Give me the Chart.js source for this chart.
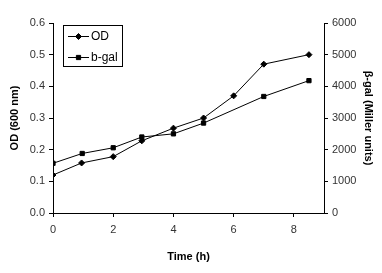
<!DOCTYPE html>
<html>
<head>
<meta charset="utf-8">
<script src="https://cdn.jsdelivr.net/npm/chart.js@4"></script>
<style>
  html, body { margin: 0; padding: 0; background: #fff; }
  #wrap { width: 382px; height: 273px; }
</style>
</head>
<body>
<div id="wrap"><canvas id="c" width="382" height="273"></canvas></div>
<script>
// values
const timeOD = [0, 0.95, 2, 2.95, 4, 5, 6, 7, 8.5];
const odValues = [0.12, 0.158, 0.178, 0.228, 0.268, 0.30, 0.37, 0.47, 0.50];
const timeGal = [0, 0.97, 2, 2.95, 4, 5, 7, 8.5];
const galValues = [1570, 1880, 2060, 2400, 2500, 2840, 3680, 4180];
const xTicks = [0, 2, 4, 6, 8];

const font = { family: 'Liberation Sans, Arial, sans-serif', size: 11 };
const boldFont = { family: 'Liberation Sans, Arial, sans-serif', size: 11, weight: 'bold' };

// small boxed legend like the original
const boxLegend = {
  id: 'boxLegend',
  afterDraw(chart) {
    const ctx = chart.ctx;
    ctx.save();
    ctx.strokeStyle = '#000';
    ctx.lineWidth = 1;
    ctx.strokeRect(63.5, 25.5, 59, 41);
    const rows = [
      { label: 'OD', style: 'rectRot', r: 3, y: 36 },
      { label: 'b-gal', style: 'rect', r: 3, y: 57 }
    ];
    rows.forEach(row => {
      ctx.beginPath();
      ctx.moveTo(68, row.y + 0.5);
      ctx.lineTo(89, row.y + 0.5);
      ctx.stroke();
      ctx.fillStyle = '#000';
      Chart.helpers.drawPoint(ctx, { pointStyle: row.style, radius: row.r, borderWidth: 1 }, 78.5, row.y + 0.5);
      ctx.font = '12px Liberation Sans, Arial, sans-serif';
      ctx.textBaseline = 'middle';
      ctx.fillText(row.label, 91, row.y + 1);
    });
    ctx.restore();
  }
};

new Chart(document.getElementById('c'), {
  type: 'line',
  data: {
    datasets: [{
      label: 'OD',
      data: timeOD.map((t, i) => ({ x: t, y: odValues[i] })),
      yAxisID: 'y',
      borderColor: '#000',
      backgroundColor: '#000',
      borderWidth: 1,
      pointStyle: 'rectRot',
      pointRadius: 3,
      tension: 0
    }, {
      label: 'b-gal',
      data: timeGal.map((t, i) => ({ x: t, y: galValues[i] })),
      yAxisID: 'y2',
      borderColor: '#000',
      backgroundColor: '#000',
      borderWidth: 1,
      pointStyle: 'rect',
      pointRadius: 3,
      tension: 0
    }]
  },
  options: {
    responsive: false,
    animation: false,
    layout: { padding: { top: 23, left: 0, right: 0, bottom: 0 } },
    plugins: { legend: { display: false }, tooltip: { enabled: false } },
    scales: {
      x: {
        type: 'linear',
        min: 0,
        max: 9,
        afterBuildTicks: s => { s.ticks = xTicks.map(v => ({ value: v })); },
        afterFit: s => { s.height = 60; },
        grid: { drawOnChartArea: false, tickLength: 4, color: '#000' },
        border: { color: '#000', width: 1 },
        ticks: { font: font, color: '#333', padding: 6, maxRotation: 0 },
        title: { display: true, text: 'Time (h)', font: boldFont, color: '#000', padding: { top: 0, bottom: 9 } }
      },
      y: {
        position: 'left',
        min: 0,
        max: 0.6,
        afterFit: s => { s.width = 53; },
        grid: { drawOnChartArea: false, tickLength: 4, color: '#000' },
        border: { color: '#000', width: 1 },
        ticks: { stepSize: 0.1, font: font, color: '#333', padding: 4, callback: v => v.toFixed(1) },
        title: { display: true, text: 'OD (600 nm)', font: boldFont, color: '#000', padding: { top: 8, bottom: 0 } }
      },
      y2: {
        position: 'right',
        min: 0,
        max: 6000,
        afterFit: s => { s.width = 58; },
        grid: { drawOnChartArea: false, tickLength: 4, color: '#000' },
        border: { color: '#000', width: 1 },
        ticks: { stepSize: 1000, font: font, color: '#333', padding: 4, callback: v => String(v) },
        title: { display: true, text: 'β-gal (Miller units)', font: boldFont, color: '#000', padding: { top: 7, bottom: 0 } }
      }
    }
  },
  plugins: [boxLegend]
});
</script>
</body>
</html>
